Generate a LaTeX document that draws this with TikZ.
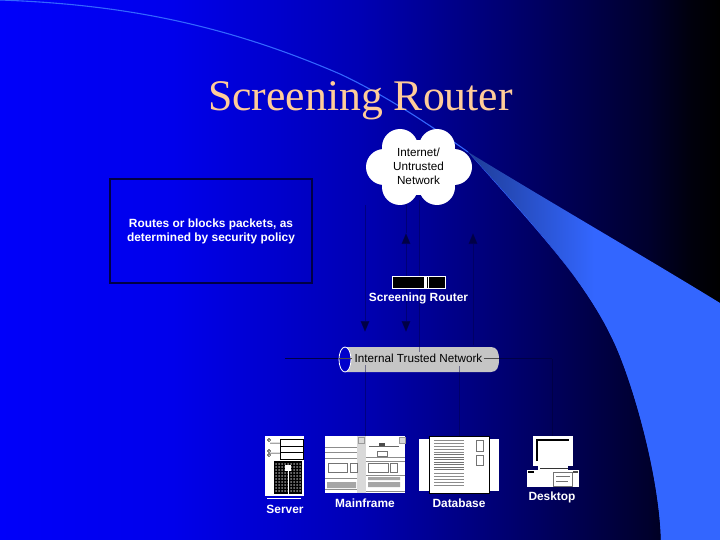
\documentclass[tikz,border=0pt]{standalone}
\usepackage{fontspec}
\setmainfont{Liberation Sans}
\newfontfamily\titlefont{Liberation Serif}
\usetikzlibrary{arrows.meta}
\definecolor{swoosh}{RGB}{51,102,255}
\definecolor{titlec}{RGB}{255,204,153}
\definecolor{navy}{RGB}{0,0,70}
\definecolor{linegray}{RGB}{150,150,150}
\definecolor{bga}{RGB}{0,0,250}
\definecolor{bgb}{RGB}{0,0,235}
\definecolor{bgc}{RGB}{0,0,180}
\definecolor{bgd}{RGB}{0,0,100}
\definecolor{bge}{RGB}{0,0,45}
\definecolor{bgf}{RGB}{0,0,12}
\definecolor{bgg}{RGB}{0,0,0}
\definecolor{swa}{RGB}{30,60,150}
\pgfdeclarehorizontalshading{slidebg}{100bp}{
 color(0bp)=(bga);
 color(25bp)=(bga);
 color(37bp)=(bgb);
 color(50bp)=(bgc);
 color(62bp)=(bgd);
 color(70bp)=(bge);
 color(73bp)=(bgf);
 color(75bp)=(bgg);
 color(100bp)=(bgg)}
\pgfdeclarehorizontalshading{swooshbg}{100bp}{
 color(0bp)=(swa);
 color(25bp)=(swa);
 color(50bp)=(swoosh);
 color(100bp)=(swoosh)}
\tikzset{
 lbl/.style={font=\fontsize{11.9}{14}\selectfont\bfseries,text=white,align=center,inner sep=0pt},
 dark/.style={font=\fontsize{11.7}{14}\selectfont,text=black,align=center,inner sep=0pt},
 link/.style={draw=navy,line width=0.7pt},
 faint/.style={draw=navy,draw opacity=.45,line width=0.6pt},
 uptip/.style={-{Triangle[length=11pt,width=9pt,fill=navy]},draw=navy,draw opacity=.45,line width=0.6pt},
 panel/.style={fill=white,draw=none},
 ink/.style={draw=black!55,line width=0.5pt},
 cloudpuff/.style={fill=white,draw=none}
}
\begin{document}
\begin{tikzpicture}[x=1pt,y=-1pt]
\useasboundingbox (0,0) rectangle (720,540);
% background
\shade[shading=slidebg] (0,0) rectangle (720,540);
% swoosh
\begin{scope}
\clip (468,152) .. controls (560,208) and (650,260) .. (720,303) -- (720,540) -- (661,540)
  .. controls (659,470) and (630,375) .. (613,340) .. controls (585,280) and (530,220) .. (468,152) -- cycle;
\shade[shading=swooshbg] (468,140) rectangle (720,540);
\end{scope}
\fill[swoosh] (468,152) .. controls (530,220) and (585,280) .. (613,340)
  .. controls (630,375) and (659,470) .. (661,540) -- (663,540)
  .. controls (661,470) and (632,375) .. (615,340) .. controls (587,283) and (530,222) .. (468,152) -- cycle;
\draw[swoosh,line width=1.1pt] (0,0) .. controls (110,4) and (215,20) .. (340,74) .. controls (385,95) and (430,125) .. (468,152);
% title
\node[font=\titlefont\fontsize{43.7}{50}\selectfont,text=titlec,inner sep=0pt] (title) at (360.5,101) {Screening Router};
% note box
\node[draw=navy,line width=1.5pt,minimum width=202pt,minimum height=104pt,inner sep=0pt] (note) at (211,231) {};
\node[lbl] (notetext) at (211,231.5) {Routes or blocks packets, as\\determined by security policy};
% anchor points for connectors
\coordinate (cloudA) at (365,205);
\coordinate (cloudB) at (406,200);
\coordinate (cloudC) at (419,200);
\coordinate (cloudD) at (473,345);
\coordinate (upA) at (406,233);
\coordinate (upB) at (473,233);
\coordinate (downA) at (365,332);
\coordinate (downB) at (406,332);
\coordinate (midB) at (406,290);
\coordinate (netC) at (419,347);
\coordinate (netL) at (285,358.5);
\coordinate (netR) at (552,358.5);
\coordinate (mainT) at (365,436);
\coordinate (deskT) at (552,436);
\coordinate (netB) at (365,372);
\coordinate (dbT) at (459,436);
\coordinate (dbB) at (459,372);
% connectors
\draw[faint] (cloudC) -- (netC);
\draw[uptip] (cloudA) -- (downA);
\draw[uptip] (midB) -- (downB);
\draw[uptip] (midB) -- (upA);
\draw[faint] (cloudB) -- (upA);
\draw[uptip] (cloudD) -- (upB);
\draw[link] (netL) -- (netR);
\draw[faint] (netB) -- (mainT);
\draw[faint] (dbB) -- (dbT);
\draw[link] (netR) -- (deskT);
% cloud
\fill[cloudpuff] (400,147) circle[radius=18];
\fill[cloudpuff] (437,147) circle[radius=18];
\fill[cloudpuff] (384,167) circle[radius=18];
\fill[cloudpuff] (454,167) circle[radius=18];
\fill[cloudpuff] (400,187) circle[radius=18];
\fill[cloudpuff] (437,187) circle[radius=18];
\fill[cloudpuff] (395,140) rectangle (442,195);
\node[dark] (cloud) at (418.5,166.5) {Internet/\\Untrusted\\Network};
% router
\node[fill=black,draw=white,line width=0.7pt,minimum width=53pt,minimum height=12pt,inner sep=0pt] (router) at (418.5,282) {};
\draw[white,line width=1.2pt] (426,276) -- (426,288);
\draw[white,line width=0.5pt] (424,276) -- (424,288) (428,276) -- (428,288);
\node[lbl] (routerlabel) at (418.5,298.5) {Screening Router};
% cylinder
\fill[linegray!55!white] (345,347) -- (491,347) .. controls (497,347) and (499,352) .. (499,359.5) .. controls (499,367) and (497,372) .. (491,372) -- (345,372) -- cycle;
\draw[faint] (365,372) -- (365,365) (419,347) -- (419,352) (459,372) -- (459,366);
\draw[white,fill=blue!80!black,line width=0.8pt] (345,359.5) ellipse[x radius=6,y radius=12.5];
\draw[black!70,line width=0.7pt] (339,358.5) -- (352,358.5) (484,358.5) -- (499,358.5);
\node[dark] (net) at (418.5,358) {Internal Trusted Network};
% server
\fill[panel] (265,436) rectangle (304,496);
\draw[white,line width=0.8pt] (267,498) -- (301,498);
\draw[black,line width=0.5pt] (280,439) rectangle (303,459) (280,446) -- (303,446) (280,452.5) -- (303,452.5);
\draw[black,line width=0.5pt] (269,440) circle[radius=1.6] (269,451) circle[radius=1.6] (269,455) circle[radius=1.6] (270,443) -- (280,443) (270,453) -- (280,453);
\fill[black] (274,461) rectangle (302,494);
\foreach \x in {276,279,...,300}{\foreach \y in {464,467,...,492}{\fill[white!55!black] (\x,\y) circle[radius=1];}}
\fill[white] (285,465) rectangle (291,471);
\fill[white] (287.5,471) rectangle (288.5,494);
\node[lbl] (server) at (285,509) {Server};
% mainframe
\fill[panel] (325,436) rectangle (405,493);
\fill[white!85!black] (357,436) rectangle (366,493);
\foreach \y in {447,452,458,478,489}{\draw[black!45,line width=0.6pt] (325,\y) -- (357,\y);}
\foreach \y in {457,461,475,491}{\draw[black!45,line width=0.6pt] (366,\y) -- (405,\y);}
\draw[ink] (328,463) rectangle (347,472) (350,463) rectangle (357,472);
\draw[ink] (368,463) rectangle (388,472) (390,463) rectangle (397,472);
\fill[white!65!black] (327,482) rectangle (356,488) (368,477) rectangle (400,480) (368,482) rectangle (400,487);
\draw[ink] (377,451) rectangle (387,456);
\draw[black!60,line width=0.8pt] (369,446) -- (399,446);
\fill[black!70] (379,443) rectangle (385,446);
\draw[black!40,line width=0.4pt,fill=white!85!black] (358,437) rectangle (364,443) (399,437) rectangle (405,443);
\node[lbl] (mainframe) at (365,503.5) {Mainframe};
% database
\fill[panel] (419,439) rectangle (499,491);
\fill[panel,draw=black,line width=0.7pt] (429,436) rectangle (489,493);
\foreach \y in {440,443,...,452}{\draw[black!45,line width=0.7pt] (434,\y) -- (464,\y);}
\foreach \y in {454.5,457,...,470}{\draw[black!55,line width=1pt] (434,\y) -- (464,\y);}
\foreach \y in {473,476,...,486}{\draw[black!45,line width=0.7pt] (434,\y) -- (464,\y);}
\draw[black!55,line width=0.6pt] (476,440) rectangle (483,451) (476,455) rectangle (483,465);
\node[lbl] (database) at (459,503.5) {Database};
% desktop
\fill[panel] (533,436) rectangle (573,466);
\fill[white] (537,439) rectangle (569,461);
\draw[black,line width=1.2pt] (537,461) -- (537,440) -- (569,440);
\fill[white] (538,466) rectangle (568,470);
\draw[black!80,line width=0.8pt] (540,468) -- (568,468);
\fill[panel] (527,469.5) rectangle (579,487);
\fill[black] (528,471) rectangle (534,473);
\fill[black!70] (573,471) rectangle (578,473);
\draw[black!55,line width=0.5pt] (553,472) rectangle (572,486) (556,476) -- (570,476) (556,481) -- (568,481);
\node[lbl] (desktop) at (552,497) {Desktop};
\end{tikzpicture}
\end{document}
